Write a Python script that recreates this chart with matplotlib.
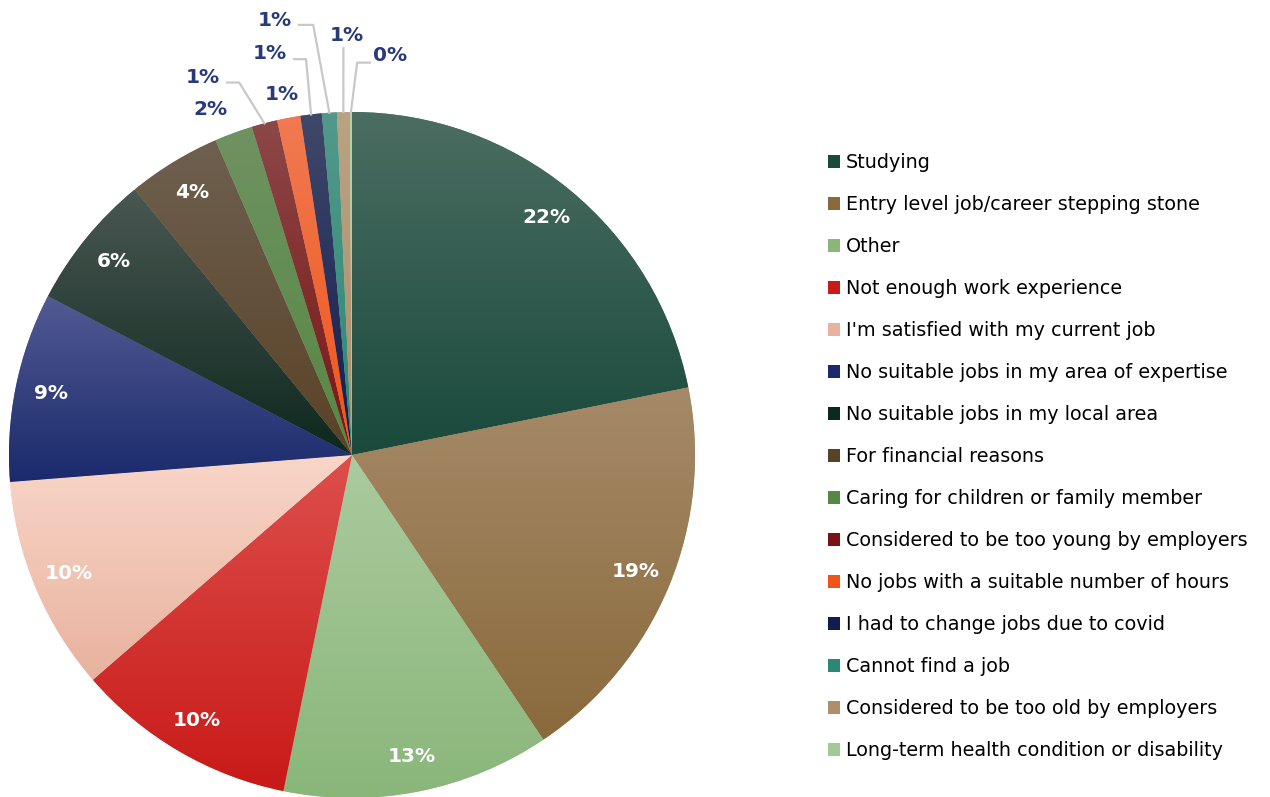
import numpy as np
import matplotlib
matplotlib.use('Agg')
import matplotlib.pyplot as plt
from matplotlib.patches import Patch
from matplotlib.colors import to_rgb

plt.rcParams['font.family'] = ['DejaVu Sans']

# reasons (share of respondents, %)
reasons = [
    "Studying",
    "Entry level job/career stepping stone",
    "Other",
    "Not enough work experience",
    "I'm satisfied with my current job",
    "No suitable jobs in my area of expertise",
    "No suitable jobs in my local area",
    "For financial reasons",
    "Caring for children or family member",
    "Considered to be too young by employers",
    "No jobs with a suitable number of hours",
    "I had to change jobs due to covid",
    "Cannot find a job",
    "Considered to be too old by employers",
    "Long-term health condition or disability",
]
shares = [21.8, 18.7, 12.6, 10.4, 10.1, 8.9, 6.4, 4.4, 1.8, 1.2, 1.1, 1.0, 0.7, 0.6, 0.1]

# (top colour, bottom colour) of each slice's gradient
top_cols = ['#4c6d62', '#a68a68', '#aacb9e', '#dd4f4c', '#f9d6c8', '#525a92', '#4a5752',
            '#6e6050', '#6f9262', '#8c4848', '#f07a52', '#40486a', '#52998b', '#baa282', '#b4d4a8']
bot_cols = ['#194a3c', '#8a6a3c', '#8ab67a', '#c81a18', '#e8b29e', '#1a2a6c', '#0d281e',
            '#5a4226', '#568844', '#7a1414', '#f05418', '#121c4e', '#2a8874', '#ae8e6c', '#a4c898']

fig = plt.figure(figsize=(12.7, 7.97), dpi=100)
W, H = 1270, 797
cx, cy, R = 352, 455, 343
ax = fig.add_axes([(cx - R) / W, (H - cy - R) / H, 2 * R / W, 2 * R / H])
ax.set_xlim(-1, 1)
ax.set_ylim(-1, 1)
ax.axis('off')

wedges, _ = ax.pie(shares, startangle=90, counterclock=False, radius=1,
                   colors=bot_cols,
                   wedgeprops=dict(edgecolor=(1, 1, 1, 0.35), linewidth=0.6))

# vertical gradient in every slice
for w, c1, c2 in zip(wedges, top_cols, bot_cols):
    bb = w.get_path().get_extents()
    t = np.linspace(0, 1, 200)[:, None]
    grad = (1 - t) * np.array(to_rgb(c1)) + t * np.array(to_rgb(c2))
    im = ax.imshow(grad[:, None, :], extent=(bb.x0, bb.x1, bb.y0, bb.y1),
                   aspect='auto', zorder=1.5, interpolation='bilinear')
    im.set_clip_path(w)
ax.set_xlim(-1, 1)
ax.set_ylim(-1, 1)

total = sum(shares)
labels = [f"{round(s / total * 100):.0f}%" for s in shares]

# outside labels for the thin slices: label pos, leader points (data units)
outside = {
    8: ((-0.414, 1.006), None),
    9: ((-0.434, 1.102), [(-0.329, 1.086), (-0.364, 1.086)]),
    10: ((-0.205, 1.050), None),
    11: ((-0.239, 1.172), [(-0.134, 1.154), (-0.169, 1.154)]),
    12: ((-0.224, 1.266), [(-0.113, 1.254), (-0.155, 1.254)]),
    13: ((-0.015, 1.224), [(-0.025, 1.186)]),
    14: ((0.111, 1.166), [(0.015, 1.144), (0.052, 1.144)]),
}

for i, w in enumerate(wedges):
    mid = np.deg2rad((w.theta1 + w.theta2) / 2)
    if i in outside:
        pos, leader = outside[i]
        if leader:
            pts = [(np.cos(mid), np.sin(mid))] + leader
            xs, ys = zip(*pts)
            ax.plot(xs, ys, color='#c8c8c8', lw=1.6, clip_on=False, zorder=3)
        ax.text(pos[0], pos[1], labels[i], ha='center', va='center', fontsize=14.5,
                fontweight='bold', color='#283a7a', clip_on=False)
    else:
        ax.text(0.895 * np.cos(mid), 0.895 * np.sin(mid), labels[i], ha='center',
                va='center', fontsize=14.5, fontweight='bold', color='white', zorder=4)

handles = [Patch(facecolor=c, edgecolor='none') for c in bot_cols]
fig.legend(handles, reasons, loc='upper left', bbox_to_anchor=(828 / W, 1 - 153 / H),
           frameon=False, fontsize=13.8, handlelength=0.65, handleheight=0.65,
           handletextpad=0.3, labelspacing=1.2, borderpad=0, borderaxespad=0)

fig.savefig('out.png', dpi=100)
